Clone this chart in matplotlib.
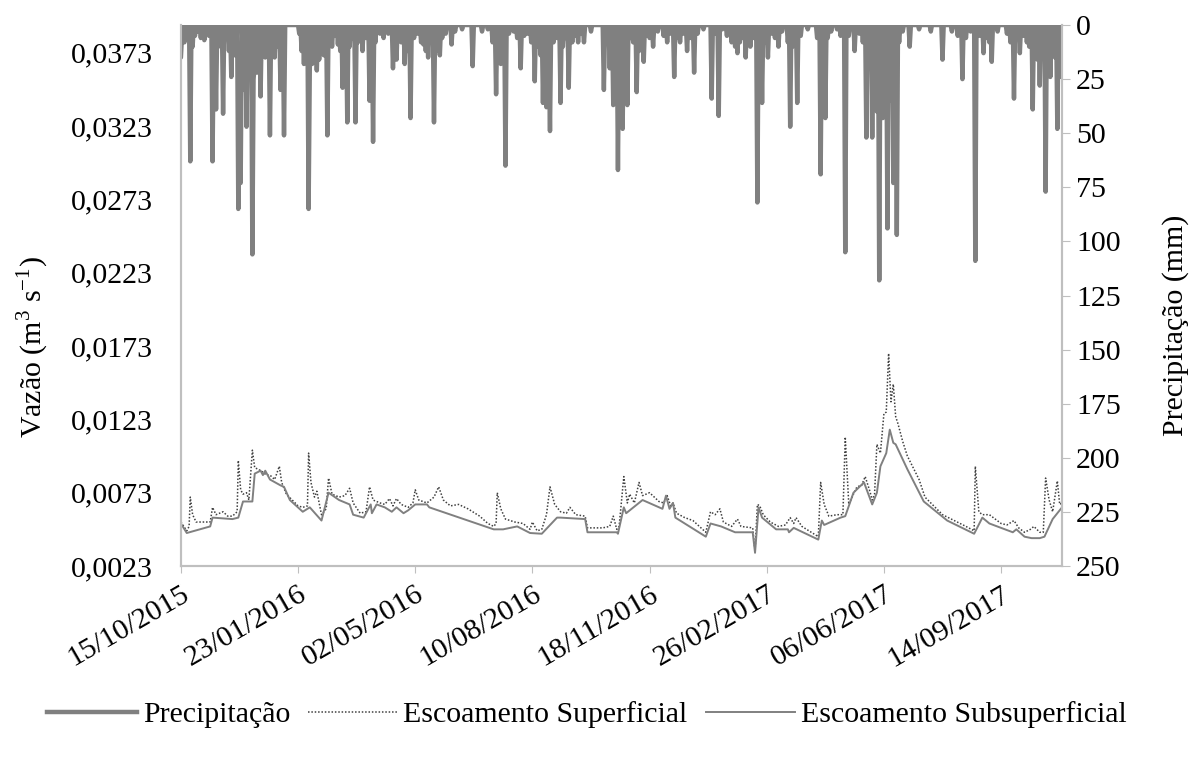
"""Vazão e precipitação diária — escoamento superficial e subsuperficial."""
import numpy as np
import matplotlib
matplotlib.use("Agg")
import matplotlib.pyplot as plt
import matplotlib.dates as mdates
from matplotlib.lines import Line2D

plt.rcParams["font.family"] = ["Liberation Serif", "DejaVu Serif"]
plt.rcParams["mathtext.fontset"] = "custom"
plt.rcParams["mathtext.rm"] = "Liberation Serif"

START = np.datetime64("2015-10-15")
N_DAYS = 753

# --- Precipitação (mm): dias com chuva (dias desde 15/10/2015) ---
rain_day = [
    0, 1, 3, 5, 8, 10, 12, 14, 17, 20, 22, 24, 27, 28, 30, 32, 34, 36, 39, 41,
    43, 45, 46, 47, 49, 50, 51, 53, 54, 56, 58, 59, 61, 62, 63, 65, 66, 68, 70, 72,
    74, 76, 78, 80, 82, 85, 86, 88, 101, 103, 105, 107, 109, 110, 112, 114, 116, 118, 120, 122,
    125, 127, 129, 132, 134, 136, 138, 140, 142, 144, 146, 149, 151, 153, 155, 158, 161, 164, 166, 170,
    173, 177, 181, 184, 186, 188, 191, 193, 196, 199, 202, 205, 207, 209, 211, 214, 216, 218, 221, 223,
    226, 231, 234, 240, 249, 257, 262, 266, 269, 271, 273, 275, 277, 280, 284, 287, 290, 293, 296, 299,
    302, 305, 307, 309, 311, 312, 314, 315, 318, 321, 324, 326, 328, 331, 334, 336, 339, 341, 344, 350,
    361, 364, 366, 369, 371, 373, 375, 377, 379, 381, 384, 386, 389, 391, 395, 398, 400, 403, 407, 412,
    415, 418, 421, 424, 426, 429, 432, 435, 438, 441, 446, 453, 456, 459, 462, 466, 470, 473, 475, 477,
    479, 482, 484, 486, 489, 492, 494, 496, 498, 501, 504, 507, 510, 513, 518, 520, 522, 524, 526, 529,
    535, 543, 546, 548, 550, 552, 555, 560, 563, 567, 570, 575, 579, 582, 585, 587, 590, 592, 594, 596,
    598, 599, 601, 603, 605, 606, 608, 609, 611, 613, 616, 622, 630, 640, 650, 658, 663, 667, 670, 674,
    678, 682, 685, 688, 690, 692, 697, 705, 708, 711, 714, 716, 719, 722, 724, 727, 729, 731, 733, 735,
    738, 740, 742, 744, 746, 748, 750, 751,
]
rain_mm = [
    15, 4, 8, 3, 63, 10, 5, 3, 6, 7, 4, 5, 63, 8, 39, 6, 10, 41, 5, 12,
    24, 6, 14, 8, 85, 20, 73, 15, 30, 47, 12, 20, 106, 25, 18, 22, 10, 33, 12, 15,
    6, 51, 8, 15, 10, 30, 12, 51, 4, 12, 18, 14, 85, 20, 18, 10, 21, 16, 8, 14,
    51, 6, 10, 5, 9, 12, 29, 8, 45, 10, 6, 45, 8, 5, 12, 6, 35, 54, 8, 4,
    6, 4, 20, 16, 5, 8, 18, 12, 43, 6, 4, 8, 9, 12, 15, 6, 45, 12, 14, 6,
    4, 9, 3, 2, 19, 3, 2, 8, 32, 10, 18, 8, 65, 4, 3, 6, 20, 5, 4, 8,
    26, 10, 14, 36, 20, 38, 12, 49, 8, 6, 36, 10, 6, 29, 8, 5, 8, 4, 8, 3,
    30, 8, 20, 37, 10, 67, 15, 48, 10, 37, 6, 8, 31, 12, 17, 5, 6, 10, 3, 5,
    8, 4, 24, 6, 8, 4, 12, 6, 22, 4, 2, 34, 4, 42, 2, 5, 8, 10, 13, 8,
    6, 15, 5, 10, 6, 82, 20, 36, 8, 15, 4, 6, 10, 3, 8, 47, 10, 6, 36, 5,
    2, 6, 69, 10, 43, 6, 3, 2, 5, 105, 5, 12, 4, 8, 52, 20, 52, 18, 40, 118,
    30, 43, 20, 94, 35, 28, 73, 25, 97, 8, 3, 10, 2, 3, 16, 3, 5, 25, 6, 3,
    109, 5, 13, 6, 8, 17, 3, 4, 8, 34, 6, 13, 5, 8, 10, 39, 8, 16, 28, 12,
    77, 18, 24, 10, 15, 48, 24, 18,
]

# --- Escoamento Subsuperficial (m³ s-1) ---
sub_day = [
    0, 5, 25, 27, 44, 49, 53, 61, 63, 68, 70, 72, 76, 85, 88, 93, 104, 110, 120, 126,
    135, 144, 147, 156, 162, 163, 167, 174, 180, 184, 190, 194, 200, 210, 212, 267, 275, 287, 298, 308,
    321, 324, 345, 347, 372, 373, 378, 380, 394, 411, 414, 417, 420, 422, 448, 452, 461, 473, 488, 490,
    493, 496, 508, 518, 519, 523, 544, 547, 549, 563, 567, 574, 583, 590, 594, 597, 602, 605, 608, 610,
    620, 634, 654, 677, 684, 690, 710, 713, 720, 726, 733, 737, 744, 752,
]
sub_q = [
    0.0052, 0.00455, 0.0050, 0.0056, 0.0055, 0.0056, 0.0067, 0.0067, 0.0086, 0.0088,
    0.0085, 0.0088, 0.0082, 0.0078, 0.0077, 0.0068, 0.0060, 0.0063, 0.0054, 0.0073,
    0.0068, 0.0065, 0.0058, 0.0056, 0.0065, 0.0059, 0.0065, 0.0063, 0.0060, 0.0063,
    0.0059, 0.0061, 0.0065, 0.0065, 0.0063, 0.0048, 0.0048, 0.0050, 0.00455, 0.0045,
    0.0056, 0.0056, 0.0055, 0.0046, 0.0046, 0.0045, 0.0063, 0.0059, 0.0068, 0.0062,
    0.0071, 0.0062, 0.0066, 0.0056, 0.0043, 0.0052, 0.0050, 0.0046, 0.0046, 0.0032,
    0.0063, 0.0056, 0.0048, 0.0048, 0.0046, 0.0049, 0.0041, 0.0054, 0.0051, 0.0056,
    0.0057, 0.0073, 0.0080, 0.0065, 0.0073, 0.0091, 0.0100, 0.0116, 0.0107, 0.0106,
    0.0089, 0.0067, 0.0054, 0.0045, 0.0056, 0.0052, 0.0046, 0.0048, 0.0043, 0.0042,
    0.0042, 0.0043, 0.0055, 0.0063,
]

# --- Escoamento Superficial (m³ s-1) ---
sup_day = [
    0, 5, 7, 8, 10, 13, 20, 25, 27, 30, 36, 40, 44, 48, 49, 51, 53, 56, 58, 61,
    63, 66, 70, 73, 76, 80, 84, 86, 90, 95, 100, 104, 108, 109, 111, 114, 116, 120, 124, 126,
    129, 135, 140, 144, 147, 153, 158, 161, 164, 170, 174, 178, 181, 184, 188, 194, 198, 200, 203, 210,
    216, 220, 224, 230, 237, 245, 255, 262, 267, 269, 270, 273, 277, 285, 292, 298, 300, 304, 308, 312,
    315, 319, 324, 329, 332, 337, 345, 347, 360, 366, 369, 372, 374, 378, 381, 383, 387, 391, 394, 400,
    408, 412, 415, 418, 420, 423, 430, 437, 448, 452, 456, 460, 463, 470, 475, 478, 488, 490, 492, 494,
    497, 503, 510, 516, 520, 523, 525, 530, 540, 544, 546, 549, 553, 560, 565, 567, 570, 574, 577, 581,
    584, 588, 590, 592, 594, 597, 600, 602, 604, 606, 608, 610, 612, 616, 620, 625, 630, 635, 640, 645,
    650, 655, 660, 670, 677, 678, 681, 684, 690, 695, 700, 705, 711, 715, 720, 725, 728, 733, 736, 738,
    741, 744, 748, 750, 752,
]
sup_q = [
    0.0053, 0.0047, 0.0050, 0.0070, 0.0058, 0.0053, 0.0053, 0.0053, 0.0063, 0.0058,
    0.0060, 0.0057, 0.0057, 0.0060, 0.0095, 0.0075, 0.0072, 0.0073, 0.0068, 0.0102,
    0.0090, 0.0089, 0.0087, 0.0085, 0.0085, 0.0082, 0.0091, 0.0080, 0.0072, 0.0068,
    0.0064, 0.0063, 0.0064, 0.0100, 0.0080, 0.0070, 0.0074, 0.0058, 0.0062, 0.0083,
    0.0072, 0.0070, 0.0071, 0.0076, 0.0066, 0.0059, 0.0060, 0.0077, 0.0068, 0.0066,
    0.0065, 0.0069, 0.0064, 0.0069, 0.0065, 0.0063, 0.0066, 0.0075, 0.0068, 0.0066,
    0.0070, 0.0077, 0.0068, 0.0064, 0.0065, 0.0062, 0.0057, 0.0052, 0.0050, 0.0052,
    0.0073, 0.0062, 0.0055, 0.0053, 0.0052, 0.0048, 0.0053, 0.0047, 0.0048, 0.0058,
    0.0077, 0.0065, 0.0060, 0.0059, 0.0063, 0.0058, 0.0057, 0.0049, 0.0049, 0.0050,
    0.0057, 0.0048, 0.0050, 0.0084, 0.0066, 0.0072, 0.0066, 0.0080, 0.0071, 0.0073,
    0.0067, 0.0066, 0.0071, 0.0064, 0.0066, 0.0059, 0.0056, 0.0054, 0.0046, 0.0060,
    0.0058, 0.0062, 0.0053, 0.0050, 0.0055, 0.0050, 0.0049, 0.0033, 0.0065, 0.0064,
    0.0058, 0.0053, 0.0050, 0.0051, 0.0056, 0.0052, 0.0056, 0.0050, 0.0045, 0.0043,
    0.0080, 0.0065, 0.0057, 0.0058, 0.0058, 0.0111, 0.0065, 0.0072, 0.0077, 0.0078,
    0.0084, 0.0074, 0.0068, 0.0072, 0.0106, 0.0100, 0.0127, 0.0128, 0.0168, 0.0135,
    0.0147, 0.0125, 0.0120, 0.0108, 0.0098, 0.0090, 0.0082, 0.0070, 0.0066, 0.0062,
    0.0058, 0.0056, 0.0054, 0.0050, 0.0047, 0.0091, 0.0060, 0.0058, 0.0058, 0.0055,
    0.0052, 0.0051, 0.0054, 0.0049, 0.0046, 0.0048, 0.0050, 0.0046, 0.0046, 0.0083,
    0.0068, 0.0060, 0.0081, 0.0065, 0.0066,
]

q_ticks = [0.0023, 0.0073, 0.0123, 0.0173, 0.0223, 0.0273, 0.0323, 0.0373]
p_ticks = [0, 25, 50, 75, 100, 125, 150, 175, 200, 225, 250]


def main():
    grey_axis = "#bfbfbf"
    fs = 21.5

    # daily rain series (zero on dry days)
    rain = np.zeros(N_DAYS)
    rain[rain_day] = rain_mm
    days_all = START + np.arange(N_DAYS).astype("timedelta64[D]")

    fig, ax = plt.subplots(figsize=(11.98, 7.58), dpi=100)
    fig.subplots_adjust(left=0.151, right=0.8865, top=0.967, bottom=0.2533)

    ax.plot(START + np.array(sup_day).astype("timedelta64[D]"), sup_q,
            color="#404040", lw=1.1, ls=(0, (1, 1.2)))
    ax.plot(START + np.array(sub_day).astype("timedelta64[D]"), sub_q,
            color="#808080", lw=1.4)
    ax.set_ylim(0.0023, 0.0392)
    ax.set_yticks(q_ticks)
    ax.set_yticklabels([f"{v:.4f}".replace(".", ",") for v in q_ticks])
    ax.set_ylabel("Vazão (m$^3$ s$^{\\mathrm{-1}}$)", fontsize=fs)
    ax.yaxis.set_label_coords(-0.147, 0.405)

    ax2 = ax.twinx()
    ax2.plot(days_all, rain, color="#808080", lw=3.2,
             solid_joinstyle="round", solid_capstyle="round")
    ax2.set_ylim(250, 0)
    ax2.set_yticks(p_ticks)
    ax2.set_ylabel("Precipitação (mm)", fontsize=fs)
    ax2.yaxis.set_label_coords(1.113, 0.445)

    ax.set_xlim(START, START + np.timedelta64(N_DAYS - 1, "D"))
    ax.set_xticks(START + (np.arange(8) * 100).astype("timedelta64[D]"))
    ax.xaxis.set_major_formatter(mdates.DateFormatter("%d/%m/%Y"))
    for lab in ax.get_xticklabels():
        lab.set_rotation(30)
        lab.set_ha("right")
        lab.set_rotation_mode("anchor")

    for a in (ax, ax2):
        for side, sp in a.spines.items():
            sp.set_color(grey_axis)
            sp.set_linewidth(1.5)
        a.spines["top"].set_visible(False)
    ax.tick_params(axis="y", length=0, labelsize=fs, pad=20)
    ax.tick_params(axis="x", length=5, color=grey_axis, labelsize=fs, pad=6)
    ax2.tick_params(axis="y", length=6, color=grey_axis, labelsize=fs, pad=4)

    handles = [
        Line2D([], [], color="#808080", lw=3.2),
        Line2D([], [], color="#404040", lw=1.1, ls=(0, (1, 1.2))),
        Line2D([], [], color="#808080", lw=1.4),
    ]
    labels = ["Precipitação", "Escoamento Superficial", "Escoamento Subsuperficial"]
    fig.legend(handles, labels, loc="center", bbox_to_anchor=(0.49, 0.057), ncol=3,
               frameon=False, fontsize=fs, handlelength=3.0, handletextpad=0.2,
               columnspacing=0.6)

    fig.savefig("out.png", dpi=100)
    plt.close("all")


if __name__ == "__main__":
    main()
